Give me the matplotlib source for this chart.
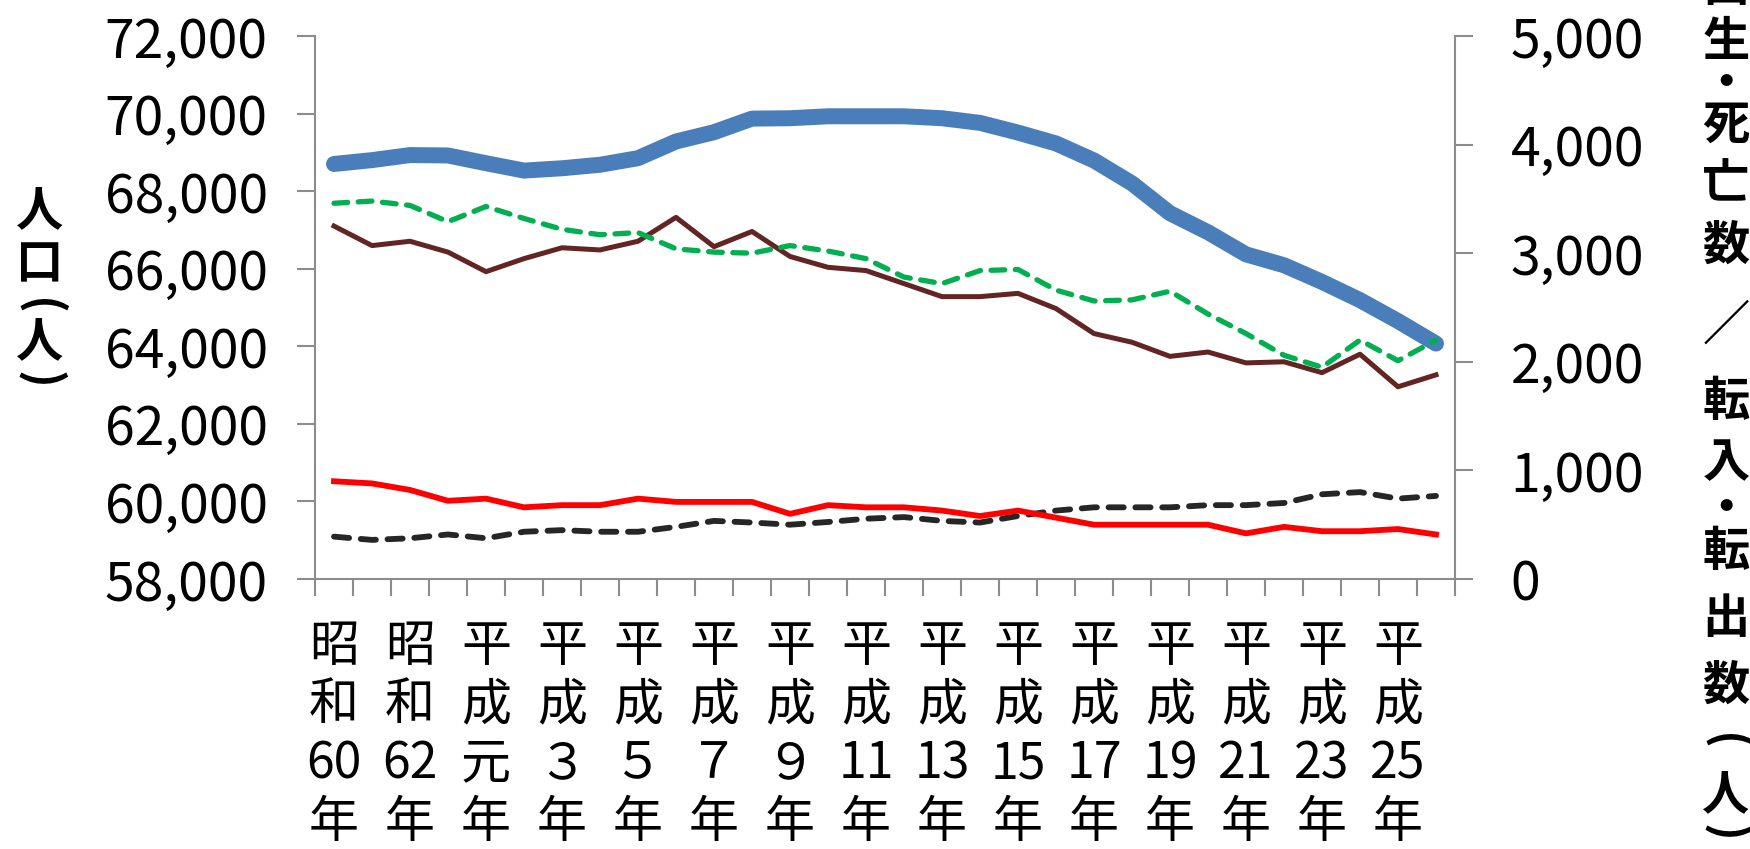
import numpy as np
import matplotlib
matplotlib.use("Agg")
import matplotlib.pyplot as plt
from matplotlib.ticker import FuncFormatter

plt.rcParams['font.family'] = ['Noto Sans CJK JP', 'DejaVu Sans']

# 昭和60年 (1985) .. 平成26年 (2014), one point per year
years = list(range(30))
tick_labels = ["昭\n和\n60\n年", "昭\n和\n62\n年", "平\n成\n元\n年", "平\n成\n３\n年",
               "平\n成\n５\n年", "平\n成\n７\n年", "平\n成\n９\n年", "平\n成\n11\n年",
               "平\n成\n13\n年", "平\n成\n15\n年", "平\n成\n17\n年", "平\n成\n19\n年",
               "平\n成\n21\n年", "平\n成\n23\n年", "平\n成\n25\n年"]

population = [68700, 68800, 68930, 68920, 68720, 68530, 68590, 68680, 68850, 69280,
              69520, 69870, 69880, 69930, 69930, 69930, 69880, 69760, 69510, 69230,
              68790, 68200, 67430, 66940, 66370, 66090, 65660, 65190, 64650, 64070]
moved_out = [3460, 3480, 3440, 3290, 3430, 3320, 3220, 3170, 3190, 3040,
             3010, 3000, 3070, 3020, 2950, 2780, 2720, 2840, 2850, 2660,
             2560, 2570, 2650, 2440, 2260, 2060, 1950, 2200, 2010, 2200]
moved_in = [3250, 3070, 3110, 3010, 2830, 2950, 3050, 3030, 3110, 3330,
            3060, 3200, 2970, 2870, 2840, 2720, 2600, 2600, 2630, 2490,
            2260, 2180, 2050, 2090, 1990, 2000, 1900, 2070, 1770, 1880]
births = [900, 880, 820, 720, 740, 660, 680, 680, 740, 710,
          710, 710, 600, 680, 660, 660, 630, 580, 630, 565,
          500, 500, 500, 500, 420, 480, 440, 440, 460, 410]
deaths = [390, 360, 375, 410, 375, 435, 450, 435, 435, 480,
          535, 520, 500, 525, 555, 570, 535, 520, 580, 630,
          660, 660, 660, 680, 680, 700, 780, 800, 740, 765]

W, H = 1750, 849
GRAY = "#8c8c8c"

fig = plt.figure(figsize=(W / 100, H / 100), dpi=100)
ax = fig.add_axes([315 / W, 1 - 579 / H, 1140 / W, 543 / H])
ax2 = ax.twinx()

x = np.array(years)
ax.plot(x, population, color="#4a7ebb", lw=11.5, solid_capstyle="round", solid_joinstyle="round")

ax2.plot(x, deaths, color="#262626", lw=4.2, ls=(0, (2.6, 2.0)), dash_capstyle="round")
ax2.plot(x, births, color="#ff0000", lw=4.2)
ax2.plot(x, moved_in, color="#632523", lw=3.6)
ax2.plot(x, moved_out, color="#00b050", lw=3.8, ls=(0, (2.6, 2.0)), dash_capstyle="round")

ax.set_xlim(-0.5, 29.5)
ax.set_ylim(58000, 72000)
ax.set_yticks(np.arange(58000, 72001, 2000))
ax.yaxis.set_major_formatter(FuncFormatter(lambda v, p: f"{int(v):,}"))
ax2.set_ylim(0, 5000)
ax2.set_yticks(np.arange(0, 5001, 1000))
ax2.yaxis.set_major_formatter(FuncFormatter(lambda v, p: f"{int(v):,}"))

# category boundaries get the tick marks, labels sit on every other category
ax.set_xticks(np.arange(-0.5, 30, 1))
ax.set_xticklabels([])
ax.set_xticks(np.arange(0, 30, 2), minor=True)
ax.set_xticklabels(tick_labels, minor=True, fontsize=36, linespacing=1.17)
ax.tick_params(axis="x", which="major", direction="out", length=12, width=1.5, color=GRAY)
ax.tick_params(axis="x", which="minor", length=0, pad=30)

ax.tick_params(axis="y", direction="out", length=13, width=1.5, color=GRAY, labelsize=38.5, pad=21)
ax2.tick_params(axis="y", direction="out", length=13, width=1.5, color=GRAY, labelsize=38.5, pad=27)

for s in ["top", "right"]:
    ax.spines[s].set_visible(False)
for s in ["top", "left", "bottom"]:
    ax2.spines[s].set_visible(False)
for s in ["left", "bottom"]:
    ax.spines[s].set_color(GRAY)
    ax.spines[s].set_linewidth(1.5)
ax2.spines["right"].set_color(GRAY)
ax2.spines["right"].set_linewidth(1.5)


def stack(chars, x_px, centers_px, size):
    # vertical (tategaki) axis titles, one glyph per position;
    # brackets are turned so they open downward / upward as in vertical writing
    for ch, yc in zip(chars, centers_px):
        rot = -90 if ch in "()" else 0
        fig.text(x_px / W, 1 - yc / H, ch, ha="center", va="center",
                 rotation=rot, fontsize=size, fontweight="bold")


stack("人口(人)", 40, [211, 264, 307, 342, 380], 34)
stack("出生・死亡数／転入・転出数(人)", 1726,
      [-13, 42, 84, 125, 184, 246, 326, 402, 463, 509, 552, 619, 686, 742, 795, 833], 34)

fig.savefig("out.png", dpi=100)
